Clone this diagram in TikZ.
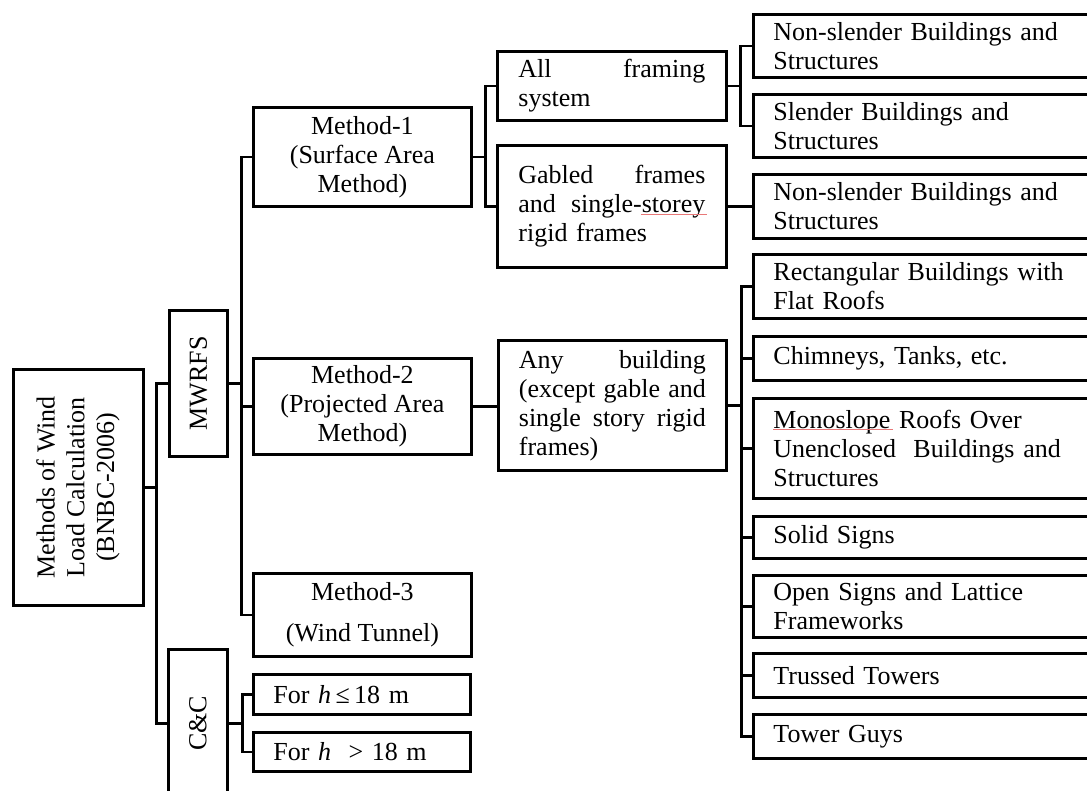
\documentclass[tikz,border=0pt]{standalone}
\usepackage{fontspec}
\setmainfont{Liberation Serif}
\definecolor{spell}{RGB}{232,120,120}
\newcommand\bx[7]{\node[box,#6,minimum width={(#4-#2)*1pt},minimum height={(#5-#3)*1pt}] (#1) at (#2,#3) {#7};}
\begin{document}
\begin{tikzpicture}[x=1pt,y=-1pt,
  box/.style={draw,line width=2.8pt,rectangle,anchor=north west,inner sep=0pt,
    font=\fontsize{26}{29}\selectfont},
  lbox/.style={align=left,text width=#1},
  cbox/.style={align=center},
  conn/.style={line width=2.8pt},
  squiggle/.style={draw=spell,line width=0.9pt}]
\useasboundingbox (0,0) rectangle (1087,790);
\clip (0,0) rectangle (1087,790);
% level 0
\bx{root}{12}{368}{142}{604}{}{\rotatebox{90}{\renewcommand\arraystretch{1.03}\begin{tabular}{@{}c@{}}Methods of Wind\\Load Calculation\\(BNBC-2006)\end{tabular}}}
% level 1
\bx{mwrfs}{168}{309}{226}{455}{}{\rotatebox{90}{MWRFS}}
\bx{cc}{167}{648}{226}{796}{}{\rotatebox{90}{C\&C}}
% level 2
\bx{m1}{252}{106}{470}{205}{cbox}{Method-1\\(Surface Area\\Method)}
\bx{m2}{252}{357}{470}{453}{cbox}{Method-2\\(Projected Area\\Method)}
\bx{m3}{252}{572}{470}{655}{cbox}{Method-3\\[12pt](Wind Tunnel)}
\bx{h1}{252}{673}{469}{713}{lbox=177pt}{For \textit{h}\,≤\,18 m}
\bx{h2}{252}{731}{469}{770}{lbox=177pt}{For \textit{h}\ \ > 18 m}
% level 3
\bx{all}{496}{50}{725}{119}{lbox=187pt}{All\hfill framing\\system}
\bx{gab}{496}{144}{725}{266}{lbox=187pt}{Gabled\hfill frames\\and\hfill single-storey\\rigid frames}
\bx{any}{497}{339}{725}{469}{lbox=187pt}{Any\hfill building\\(except\hfill gable\hfill and\\single\hfill story\hfill rigid\\frames)}
% level 4
\bx{ns1}{752}{13}{1120}{76}{lbox=328pt}{Non-slender Buildings and\\Structures}
\bx{sl}{752}{93}{1120}{156}{lbox=328pt}{Slender Buildings and\\Structures}
\bx{ns2}{752}{173}{1120}{237}{lbox=328pt}{Non-slender Buildings and\\Structures}
\bx{rect}{752}{253}{1120}{317}{lbox=328pt}{Rectangular Buildings with\\Flat Roofs}
\bx{chim}{752}{335}{1120}{379}{lbox=328pt}{Chimneys, Tanks, etc.}
\bx{mono}{752}{397}{1120}{497}{lbox=328pt}{Monoslope Roofs Over\\Unenclosed\ \ Buildings and\\Structures}
\bx{solid}{752}{515}{1120}{557}{lbox=328pt}{Solid Signs}
\bx{open}{752}{574}{1120}{636}{lbox=328pt}{Open Signs and Lattice\\Frameworks}
\bx{truss}{752}{652}{1120}{696}{lbox=328pt}{Trussed Towers}
\bx{tower}{752}{713}{1120}{757}{lbox=328pt}{Tower Guys}
% spell-check underlines visible in the source
\draw[squiggle] (641,214) -- (707,214);
\draw[squiggle] (773,429) -- (893,429);
% connectors
\draw[conn] (root.east) -- ++(12,0) coordinate (j0) |- (mwrfs.west);
\draw[conn] (j0) |- (cc.west);
\draw[conn] (mwrfs.east) -- ++(13,0) coordinate (j1) |- (m1.west);
\draw[conn] (j1) |- (m2.west);
\draw[conn] (j1) |- (m3.west);
\draw[conn] (cc.east) -- ++(14,0) coordinate (j2) |- (h1.west);
\draw[conn] (j2) |- (h2.west);
\draw[conn] (m1.east) -- ++(13,0) coordinate (j3) |- (all.west);
\draw[conn] (j3) |- (gab.west);
\draw[conn] (all.east) -- ++(13,0) coordinate (j4) |- (ns1.west);
\draw[conn] (j4) |- (sl.west);
\draw[conn] (gab.east) -- (gab.east -| ns2.west);
\draw[conn] (m2.east) -- (m2.east -| any.west);
\draw[conn] (any.east) -- ++(14,0) coordinate (j5) |- (rect.west);
\foreach \n in {chim,mono,solid,open,truss,tower} \draw[conn] (j5) |- (\n.west);
\end{tikzpicture}
\end{document}
